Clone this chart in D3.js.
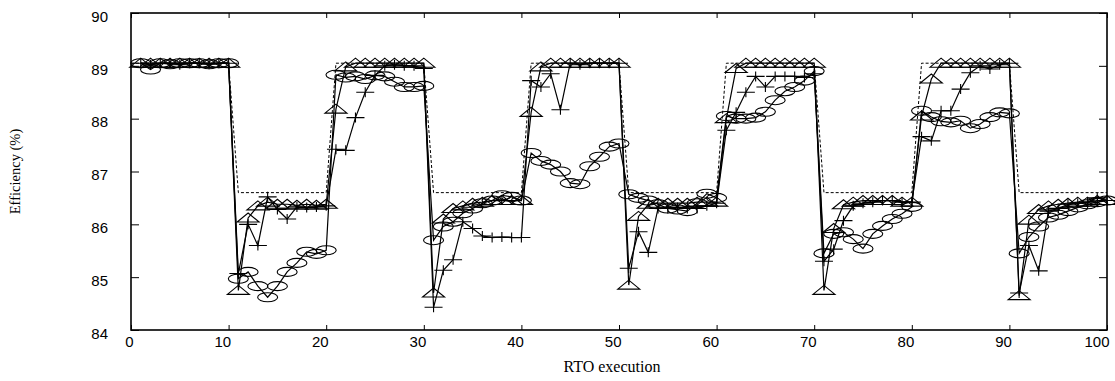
<!DOCTYPE html>
<html>
<head>
<meta charset="utf-8">
<script src="https://cdn.jsdelivr.net/npm/d3@7"></script>
<style>
  body { margin: 0; background: #fff; }
  svg { display: block; }
  .tick-label { font-family: "Liberation Sans", Arial, sans-serif; font-size: 15px; fill: #000; }
  .axis-title { font-family: "Liberation Serif", "Times New Roman", serif; fill: #000; }
</style>
</head>
<body>
<svg id="chart" width="1115" height="381"></svg>
<script>
// x ticks / y ticks
const xTicks = [0, 10, 20, 30, 40, 50, 60, 70, 80, 90, 100];
const yTicks = [84, 85, 86, 87, 88, 89, 90];

// ideal efficiency (dashed), corner points
const idealX = [0, 10, 11, 20, 21, 30, 31, 40, 41, 50, 51, 60, 61, 70, 71, 80, 81, 90, 91, 100];
const idealY = [89.05, 89.05, 86.6, 86.6, 89.05, 89.05, 86.6, 86.6, 89.05, 89.05,
                86.6, 86.6, 89.05, 89.05, 86.6, 86.6, 89.05, 89.05, 86.6, 86.6];

// executions 1..100
const triValues = [
  89.05, 89.05, 89.05, 89.05, 89.05, 89.05, 89.05, 89.05, 89.05, 89.05,
  84.75, 86.12, 86.35, 86.42, 86.38, 86.38, 86.36, 86.38, 86.36, 86.38,
  88.18, 88.98, 89.05, 89.05, 89.05, 89.05, 89.05, 89.05, 89.05, 89.05,
  84.70, 86.10, 86.30, 86.35, 86.40, 86.42, 86.45, 86.45, 86.45, 86.45,
  88.12, 88.98, 89.05, 89.05, 89.05, 89.05, 89.05, 89.05, 89.05, 89.05,
  84.85, 86.15, 86.38, 86.40, 86.40, 86.40, 86.40, 86.42, 86.42, 86.42,
  88.00, 88.95, 89.05, 89.05, 89.05, 89.05, 89.05, 89.05, 89.05, 89.05,
  84.75, 85.92, 86.37, 86.42, 86.45, 86.45, 86.45, 86.45, 86.42, 86.42,
  88.05, 88.75, 89.05, 89.05, 89.05, 89.05, 89.05, 89.05, 89.05, 89.05,
  84.65, 86.08, 86.28, 86.35, 86.38, 86.40, 86.42, 86.42, 86.45, 86.45
];

const plusValues = [
  89.05, 89.02, 89.05, 89.05, 89.02, 89.05, 89.05, 89.03, 89.05, 89.05,
  85.07, 86.00, 85.60, 86.52, 86.28, 86.10, 86.33, 86.32, 86.33, 86.35,
  87.42, 87.40, 88.02, 88.50, 88.82, 89.00, 89.02, 89.00, 89.00, 88.95,
  84.43, 85.13, 85.33, 86.05, 85.92, 85.78, 85.75, 85.76, 85.75, 85.75,
  88.72, 88.60, 88.85, 88.17, 89.05, 89.02, 89.05, 89.05, 89.05, 89.05,
  85.17, 85.86, 85.47, 86.30, 86.30, 86.32, 86.30, 86.30, 86.35, 86.40,
  87.78, 88.12, 88.50, 88.80, 88.60, 88.80, 88.80, 88.80, 88.78, 88.85,
  85.30, 85.53, 86.07, 86.35, 86.40, 86.42, 86.45, 86.45, 86.42, 86.42,
  87.66, 87.58, 88.15, 88.15, 88.56, 88.87, 89.00, 88.94, 89.02, 89.05,
  84.70, 85.60, 85.12, 86.25, 86.30, 86.38, 86.40, 86.42, 86.50, 86.45
];

const circValues = [
  89.05, 88.93, 89.05, 89.03, 89.05, 89.05, 89.05, 89.03, 89.05, 89.05,
  84.97, 85.10, 84.83, 84.62, 84.83, 85.10, 85.27, 85.48, 85.44, 85.51,
  88.83, 88.78, 88.80, 88.75, 88.82, 88.80, 88.70, 88.60, 88.60, 88.62,
  85.70, 85.96, 86.05, 86.21, 86.30, 86.40, 86.45, 86.55, 86.52, 86.45,
  87.35, 87.20, 87.13, 87.00, 86.78, 86.76, 87.10, 87.28, 87.47, 87.53,
  86.57, 86.50, 86.45, 86.38, 86.30, 86.28, 86.25, 86.40, 86.58, 86.50,
  88.05, 88.00, 88.00, 88.02, 88.13, 88.35, 88.52, 88.60, 88.72, 88.90,
  85.45, 85.82, 85.85, 85.72, 85.54, 85.82, 85.97, 86.10, 86.20, 86.33,
  88.15, 88.03, 87.95, 87.93, 87.96, 87.82, 87.90, 88.03, 88.12, 88.10,
  85.45, 85.76, 85.96, 86.13, 86.18, 86.25, 86.32, 86.38, 86.42, 86.45
];

const margin = { top: 13, right: 8, bottom: 51, left: 131 };
const width = 1115, height = 381;
const plotW = width - margin.left - margin.right;
const plotH = height - margin.top - margin.bottom;

const svg = d3.select('#chart');
const g = svg.append('g').attr('transform', `translate(${margin.left},${margin.top})`);

const x = d3.scaleLinear().domain([0, 100]).range([0, plotW]);
const y = d3.scaleLinear().domain([84, 90]).range([plotH, 0]);

const toPoints = vals => vals.map((v, i) => ({ x: i + 1, y: v }));
const line = d3.line().x(d => x(d.x)).y(d => y(d.y));

// axes, ticks pointing inward on all sides
const bottom = g.append('g')
  .attr('transform', `translate(0,${plotH})`)
  .call(d3.axisBottom(x).tickValues(xTicks).tickFormat(d3.format('d')).tickSize(-5).tickPadding(6));
bottom.selectAll('text').attr('class', 'tick-label')
  .style('text-anchor', 'end').attr('dx', 2);

const left = g.append('g')
  .call(d3.axisLeft(y).tickValues(yTicks).tickFormat(d3.format('d')).tickSize(-8).tickPadding(23));
left.selectAll('text').attr('class', 'tick-label').attr('dy', '0.55em');

g.append('g')
  .call(d3.axisTop(x).tickValues(xTicks).tickSize(-5).tickFormat(''));
g.append('g')
  .attr('transform', `translate(${plotW},0)`)
  .call(d3.axisRight(y).tickValues(yTicks).tickSize(-8).tickFormat(''));

g.selectAll('.domain').remove();
g.selectAll('.tick line').attr('stroke', '#000').attr('stroke-width', 1);

// ideal (dashed)
g.append('path')
  .datum(idealX.map((v, i) => ({ x: v, y: idealY[i] })))
  .attr('d', line)
  .attr('fill', 'none')
  .attr('stroke', '#000')
  .attr('stroke-width', 1)
  .attr('stroke-dasharray', '3,2');

const series = [
  { vals: circValues, shape: 'circle' },
  { vals: plusValues, shape: 'plus' },
  { vals: triValues, shape: 'triangle' }
];

const markerPath = (shape, px, py) => {
  if (shape === 'triangle') {
    return `M${px - 11},${py + 4} L${px + 11},${py + 4} L${px},${py - 5} Z`;
  }
  if (shape === 'plus') {
    return `M${px - 9},${py} L${px + 9},${py} M${px},${py - 5} L${px},${py + 5}`;
  }
  return null;
};

series.forEach(s => {
  const pts = toPoints(s.vals);
  g.append('path')
    .datum(pts)
    .attr('d', line)
    .attr('fill', 'none')
    .attr('stroke', '#000')
    .attr('stroke-width', 1.2);

  if (s.shape === 'circle') {
    g.selectAll(null)
      .data(pts)
      .enter()
      .append('ellipse')
      .attr('cx', d => x(d.x))
      .attr('cy', d => y(d.y))
      .attr('rx', 10)
      .attr('ry', 4.5)
      .attr('fill', 'none')
      .attr('stroke', '#000')
      .attr('stroke-width', 1.1);
  } else {
    g.selectAll(null)
      .data(pts)
      .enter()
      .append('path')
      .attr('d', d => markerPath(s.shape, x(d.x), y(d.y)))
      .attr('fill', 'none')
      .attr('stroke', '#000')
      .attr('stroke-width', 1.1);
  }
});

// frame
g.append('rect')
  .attr('width', plotW)
  .attr('height', plotH)
  .attr('fill', 'none')
  .attr('stroke', '#000')
  .attr('stroke-width', 1.6);

// axis titles
svg.append('text')
  .attr('class', 'axis-title')
  .attr('x', 612)
  .attr('y', 372)
  .attr('text-anchor', 'middle')
  .style('font-size', '16px')
  .text('RTO execution');

svg.append('text')
  .attr('class', 'axis-title')
  .attr('transform', `translate(20,${margin.top + plotH / 2}) rotate(-90)`)
  .attr('text-anchor', 'middle')
  .style('font-size', '14.5px')
  .text('Efficiency (%)');
</script>
</body>
</html>
